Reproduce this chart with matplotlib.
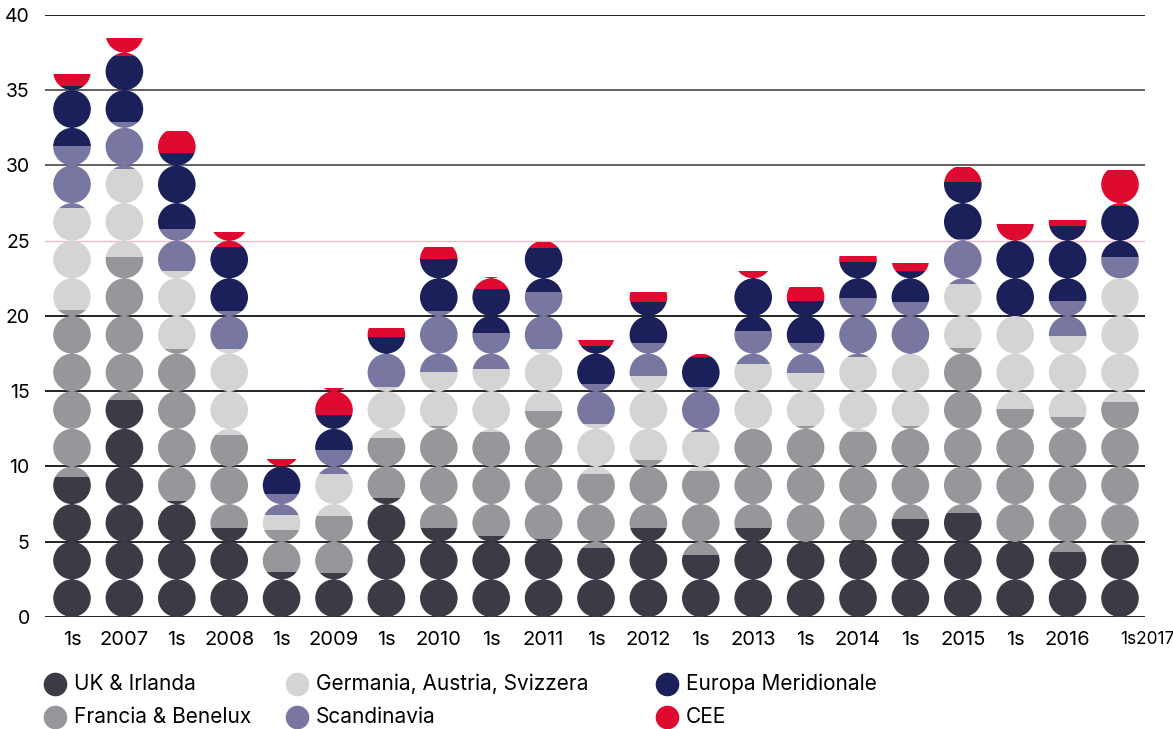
import matplotlib
matplotlib.use("Agg")
import matplotlib.pyplot as plt
from matplotlib.patches import Ellipse
from matplotlib.path import Path
from matplotlib.lines import Line2D
import numpy as np

plt.rcParams["font.family"] = ["Inter", "DejaVu Sans"]

# half-years / years on the x axis
labels = ["1s", "2007", "1s", "2008", "1s", "2009", "1s", "2010", "1s", "2011",
          "1s", "2012", "1s", "2013", "1s", "2014", "1s", "2015", "1s", "2016", "1s2017"]

# values per region
uk_irlanda = [9.3, 14.4, 7.7, 5.9, 3.0, 2.9, 7.9, 5.9, 5.4, 5.2, 4.6,
              5.9, 4.1, 5.9, 5.0, 5.1, 6.5, 6.9, 5.0, 4.3, 4.8]
francia_benelux = [11.1, 9.5, 10.1, 6.2, 2.8, 3.8, 4.0, 6.8, 6.9, 8.5, 4.9,
                   4.5, 5.6, 6.6, 7.7, 7.2, 6.2, 11.0, 8.8, 9.0, 9.5]
germania = [6.8, 5.9, 5.2, 5.7, 1.0, 2.8, 3.4, 3.6, 4.2, 4.1, 3.3,
            5.6, 2.6, 4.3, 3.5, 5.0, 4.8, 4.2, 6.2, 5.4, 8.2]
scandinavia = [4.1, 3.1, 2.8, 2.5, 1.4, 1.6, 2.2, 4.0, 2.4, 3.8, 2.7,
               2.2, 3.0, 2.2, 2.0, 3.9, 3.4, 3.0, 0.0, 2.3, 1.4]
europa_merid = [4.0, 4.4, 5.0, 4.3, 1.8, 2.3, 1.1, 3.5, 2.9, 2.9, 2.5,
                2.7, 2.0, 3.5, 2.8, 2.4, 2.1, 3.8, 5.0, 5.0, 3.4]
cee = [0.8, 1.2, 1.5, 1.0, 0.5, 1.8, 0.6, 0.8, 0.8, 0.4, 0.4,
       0.7, 0.2, 0.5, 0.9, 0.4, 0.5, 1.0, 1.1, 0.4, 2.4]

names = ["UK & Irlanda", "Francia & Benelux", "Germania, Austria, Svizzera",
         "Scandinavia", "Europa Meridionale", "CEE"]
colors = ["#3a3b44", "#96979b", "#d4d4d4", "#7877a2", "#1b1f5a", "#e00a30"]
series = [uk_irlanda, francia_benelux, germania, scandinavia, europa_merid, cee]

W, H = 1173, 729
fig = plt.figure(figsize=(W / 100, H / 100), dpi=100)
ax_l, ax_r, ax_b, ax_t = 45, 1145, 112, 714   # pixels
ax = fig.add_axes([ax_l / W, ax_b / H, (ax_r - ax_l) / W, (ax_t - ax_b) / H])

step_px = 52.4      # distance between columns
first_px = 72       # first column centre
x0 = -(first_px - ax_l) / step_px
ax.set_xlim(x0, x0 + (ax_r - ax_l) / step_px)
ax.set_ylim(0, 40)

dot = 2.5                                   # value covered by one dot
px_per_unit = (ax_t - ax_b) / 40
dot_w = dot * px_per_unit / step_px         # dot width in x units

# grid lines
for v in range(0, 41, 5):
    c = "#111111"
    if v == 25:
        c = "#f2b8c6"
    elif v in (30, 35):
        c = "#555555"
    ax.axhline(v, color=c, lw=1.3 if v != 25 else 1.0, zorder=0)

x = np.arange(len(labels))
totals = np.sum(series, axis=0)

# clip path per column: a stack of dots
clips = []
for i in range(len(labels)):
    n = int(np.ceil(totals[i] / dot - 1e-9))
    paths = []
    for k in range(n):
        e = Ellipse((x[i], dot / 2 + dot * k), dot_w, dot)
        paths.append(e.get_path().transformed(e.get_patch_transform()))
    clips.append(Path.make_compound_path(*paths))

bottom = np.zeros(len(labels))
for vals, col in zip(series, colors):
    bars = ax.bar(x, vals, bottom=bottom, width=1.0, color=col, linewidth=0, zorder=2)
    for i, b in enumerate(bars):
        b.set_clip_path(clips[i], ax.transData)
    bottom += np.array(vals)

for s in ax.spines.values():
    s.set_visible(False)
ax.set_yticks(range(0, 41, 5))
ax.tick_params(axis="y", length=0, pad=11, labelsize=14)
ax.set_xticks(x)
ax.set_xticklabels(labels)
ax.tick_params(axis="x", length=0, pad=10, labelsize=14.5)
last = ax.get_xticklabels()[-1]
last.set_horizontalalignment("left")
last.set_fontsize(12.5)

# legend
leg_cols = [55, 297, 667]
leg_rows = [684, 717]
for j, (name, col) in enumerate(zip(names, colors)):
    cx = leg_cols[j // 2]
    cy = leg_rows[j % 2]
    fig.add_artist(Line2D([cx / W], [1 - cy / H], marker="o", markersize=16,
                          color=col, linestyle="none", transform=fig.transFigure))
    fig.text((cx + 19) / W, 1 - cy / H, name, fontsize=15, va="center", ha="left")

fig.savefig("out.png", dpi=100)
